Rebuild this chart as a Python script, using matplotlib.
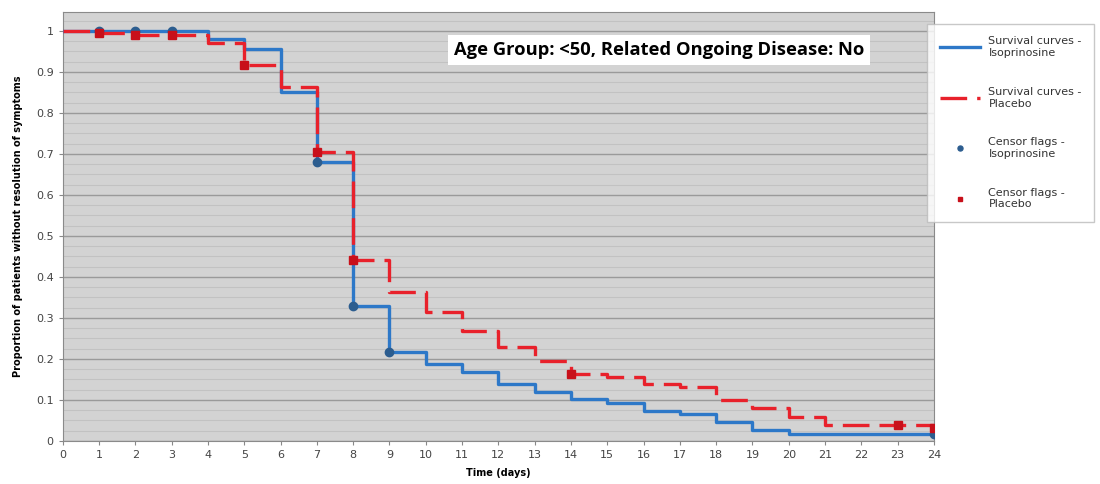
import matplotlib.pyplot as plt
import numpy as np
from matplotlib.ticker import MultipleLocator

# 生存曲線のデータ（各日の区間値）
days = np.arange(0, 25)
iso_surv = [1.0, 1.0, 1.0, 1.0, 0.98, 0.955, 0.85, 0.68, 0.328, 0.216, 0.188, 0.167,
            0.14, 0.12, 0.102, 0.093, 0.074, 0.066, 0.046, 0.027, 0.017, 0.017, 0.017,
            0.017, 0.017]
pla_surv = [1.0, 0.995, 0.99, 0.99, 0.97, 0.917, 0.864, 0.704, 0.442, 0.364, 0.314,
            0.268, 0.228, 0.196, 0.164, 0.157, 0.14, 0.131, 0.099, 0.081, 0.058, 0.04,
            0.04, 0.04, 0.031]

# 打ち切りフラグ
iso_cens_t = [1, 2, 3, 7, 8, 9, 24]
iso_cens_v = [1.0, 1.0, 1.0, 0.68, 0.328, 0.216, 0.017]
pla_cens_t = [1, 2, 3, 5, 7, 8, 14, 23, 24]
pla_cens_v = [0.995, 0.99, 0.99, 0.917, 0.704, 0.442, 0.164, 0.04, 0.031]

title_text = 'Age Group: <50, Related Ongoing Disease: No'

fig = plt.figure(figsize=(11, 4.84), dpi=100)
ax = fig.add_axes([0.057, 0.089, 0.792, 0.886])
ax.set_facecolor('#d3d3d3')

ax.step(days, iso_surv, where='post', color='#2d78c8', lw=2.4, zorder=3,
        label='Survival curves -\nIsoprinosine')
ax.step(days, pla_surv, where='post', color='#e8212b', lw=2.4, zorder=4,
        dashes=(8, 3), label='Survival curves -\nPlacebo')
ax.plot(iso_cens_t, iso_cens_v, 'o', color='#2c5d8f', ms=6, zorder=5, ls='none',
        label='Censor flags -\nIsoprinosine')
ax.plot(pla_cens_t, pla_cens_v, 's', color='#c8101a', ms=6, zorder=6, ls='none',
        label='Censor flags -\nPlacebo')

ax.set_xlim(0, 24)
ax.set_ylim(0, 1.046)
ax.xaxis.set_major_locator(MultipleLocator(1))
ax.yaxis.set_minor_locator(MultipleLocator(0.025))
ax.set_yticks(np.arange(0, 1.01, 0.1))
ax.set_yticklabels(['0', '0.1', '0.2', '0.3', '0.4', '0.5', '0.6', '0.7', '0.8', '0.9', '1'])
ax.grid(axis='y', which='major', color='#9a9a9a', lw=1.0, zorder=1)
ax.grid(axis='y', which='minor', color='#c2c2c2', lw=0.8, zorder=1)
ax.tick_params(axis='both', which='major', labelsize=8, labelcolor='#444444',
               color='#888888', length=3)
ax.tick_params(axis='y', which='minor', length=0)
for s in ax.spines.values():
    s.set_color('#8a8a8a')

ax.set_xlabel('Time (days)', fontsize=7, fontweight='bold', labelpad=6)
ax.set_ylabel('Proportion of patients without resolution of symptoms', fontsize=7,
              fontweight='bold', labelpad=9)

ax.text(0.449, 0.912, title_text, transform=ax.transAxes, fontsize=13.2,
        family='Open Sans', fontweight='bold', va='center', ha='left', zorder=7,
        bbox=dict(boxstyle='square,pad=0.32', fc='white', ec='none'))

fig.legend(loc='upper left', bbox_to_anchor=(0.843, 0.95), fontsize=8,
           frameon=True, fancybox=False, edgecolor='#bbbbbb', labelspacing=2.6,
           handlelength=3.6, borderpad=1.1, labelcolor='#333333', markerscale=0.6,
           borderaxespad=0)

fig.savefig('out.png', dpi=100)
